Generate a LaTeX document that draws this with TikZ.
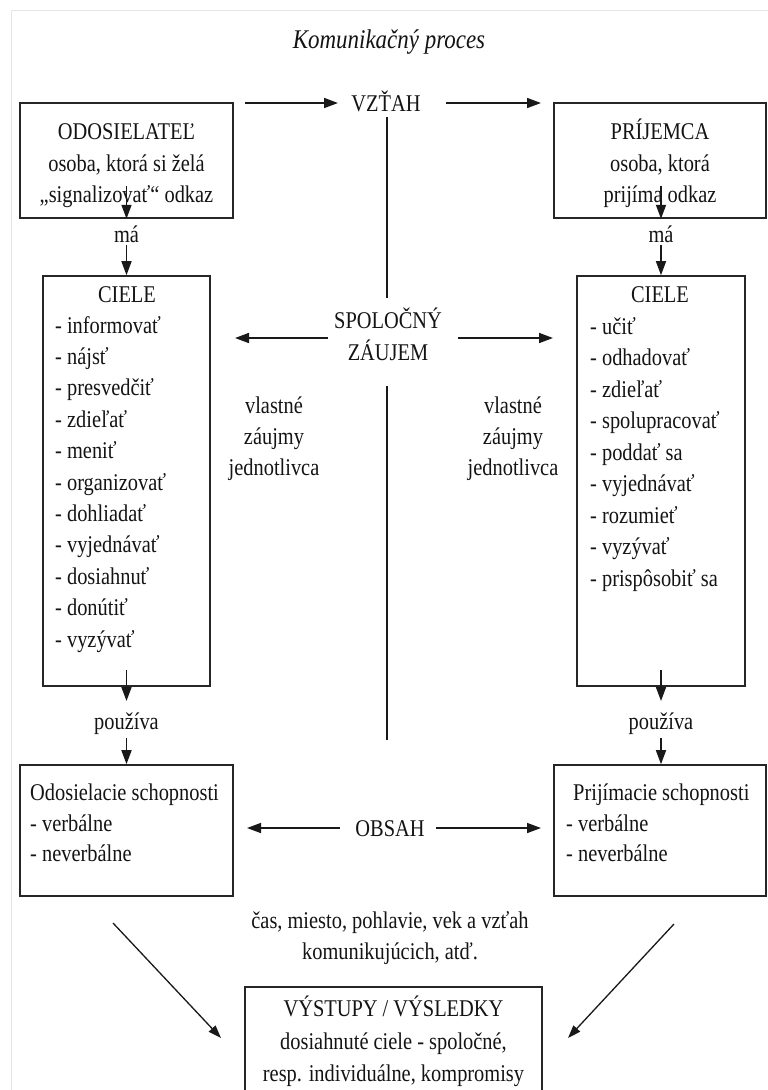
\documentclass[tikz,border=0pt]{standalone}
\usepackage{fontspec}
\setmainfont{Liberation Serif}[FakeStretch=0.85]
\usetikzlibrary{arrows.meta}
\begin{document}
\begin{tikzpicture}[x=1pt,y=-1pt,
  box/.style={draw=black!85, line width=1.6pt, inner sep=0pt},
  txt/.style={inner sep=0pt, font=\fontsize{24}{31}\selectfont, text=black!92},
  arr/.style={draw=black!90, line width=1.6pt, -{Triangle[length=14pt,width=10pt]}},
  darr/.style={draw=black!90, line width=1.3pt, -{Triangle[length=13pt,width=9pt]}},
  plain/.style={draw=black!90, line width=1.4pt}]
\fill[white] (0,0) rectangle (768,1090);
\clip (0,0) rectangle (768,1090);
\draw[black!10, line width=1pt] (11,1090) -- (11,10) -- (768,10);

% title
\node[txt, anchor=base, font=\fontsize{27}{31}\selectfont\itshape] (title) at (389,48) {Komunikačný proces};

% boxes
\node[box, minimum width=213pt, minimum height=115pt] (odos) at (126.5,160.5) {};
\node[box, minimum width=212pt, minimum height=115pt] (prij) at (660,160.5) {};
\node[box, minimum width=167pt, minimum height=410pt] (cielL) at (126.5,481) {};
\node[box, minimum width=168pt, minimum height=410pt] (cielR) at (661,481) {};
\node[box, minimum width=213pt, minimum height=131pt] (schL) at (126.5,830.5) {};
\node[box, minimum width=212pt, minimum height=131pt] (schR) at (660,830.5) {};
\node[box, minimum width=297pt, minimum height=125pt] (out) at (393.5,1049.5) {};

% sender / receiver texts
\node[txt, anchor=base] (o1) at (126.5,139) {ODOSIELATEĽ};
\node[txt, anchor=base] (o2) at (126.5,171) {osoba, ktorá si želá};
\node[txt, anchor=base] (o3) at (126.5,202) {„signalizovať“ odkaz};
\node[txt, anchor=base] (p1) at (660,139) {PRÍJEMCA};
\node[txt, anchor=base] (p2) at (660,171) {osoba, ktorá};
\node[txt, anchor=base] (p3) at (660,202) {prijíma odkaz};

% middle labels
\node[txt, anchor=base] (vztah) at (386,111) {VZŤAH};
\node[txt, anchor=base] (spol1) at (388,328) {SPOLOČNÝ};
\node[txt, anchor=base] (spol2) at (388,360) {ZÁUJEM};
\node[txt, anchor=base] (obsah) at (390,836) {OBSAH};
\node[txt, anchor=base] (vl1) at (274,413) {vlastné};
\node[txt, anchor=base] (vl2) at (274,444) {záujmy};
\node[txt, anchor=base] (vl3) at (274,475) {jednotlivca};
\node[txt, anchor=base] (vr1) at (513,413) {vlastné};
\node[txt, anchor=base] (vr2) at (513,444) {záujmy};
\node[txt, anchor=base] (vr3) at (513,475) {jednotlivca};
\node[txt, anchor=base] (maL) at (126.5,242) {má};
\node[txt, anchor=base] (maR) at (661,242) {má};
\node[txt, anchor=base] (pouL) at (126.5,729) {používa};
\node[txt, anchor=base] (pouR) at (661,729) {používa};
\node[txt, anchor=base] (cas1) at (390,928) {čas, miesto, pohlavie, vek a vzťah};
\node[txt, anchor=base] (cas2) at (390,959) {komunikujúcich, atď.};

% CIELE lists
\node[txt, anchor=base] (cLh) at (127,302) {CIELE};
\node[txt, anchor=base] (cRh) at (660,302) {CIELE};
\foreach \t [count=\i from 0] in {informovať,nájsť,presvedčiť,zdieľať,meniť,organizovať,dohliadať,vyjednávať,dosiahnuť,donútiť,vyzývať}
  \node[txt, anchor=base west] (la\i) at (55,{333+31.4*\i}) {- \t};
\foreach \t [count=\i from 0] in {učiť,odhadovať,zdieľať,spolupracovať,poddať sa,vyjednávať,rozumieť,vyzývať,prispôsobiť sa}
  \node[txt, anchor=base west] (ra\i) at (590,{334+31.5*\i}) {- \t};

% skills texts
\node[txt, anchor=base west] (sL1) at (30,800) {Odosielacie schopnosti};
\node[txt, anchor=base west] (sL2) at (30,831) {- verbálne};
\node[txt, anchor=base west] (sL3) at (30,861) {- neverbálne};
\node[txt, anchor=base west] (sR1) at (573,800) {Prijímacie schopnosti};
\node[txt, anchor=base west] (sR2) at (566,831) {- verbálne};
\node[txt, anchor=base west] (sR3) at (566,861) {- neverbálne};

% output texts
\node[txt, anchor=base] (out1) at (393.5,1016) {VÝSTUPY / VÝSLEDKY};
\node[txt, anchor=base] (out2) at (393.5,1049) {dosiahnuté ciele - spoločné,};
\node[txt, anchor=base] (out3) at (393.5,1081) {resp. individuálne, kompromisy};

% arrow end coordinates
\coordinate (t1a) at (245,103); \coordinate (t1b) at (338,103);
\coordinate (t2a) at (446,103); \coordinate (t2b) at (541,103);
\coordinate (s1a) at (328,338); \coordinate (s1b) at (235,338);
\coordinate (s2a) at (458,338); \coordinate (s2b) at (553,338);
\coordinate (b1a) at (340,828); \coordinate (b1b) at (247,828);
\coordinate (b2a) at (436,828); \coordinate (b2b) at (541,828);
\coordinate (oL) at (126.5,186); \coordinate (oR) at (661,186);
\coordinate (cL) at (126.5,670); \coordinate (cLe) at (126.5,701);
\coordinate (cR) at (661,670); \coordinate (cRe) at (661,701);
\coordinate (v1) at (387,117); \coordinate (v2) at (387,298);
\coordinate (v3) at (387,386); \coordinate (v4) at (387,740);
\coordinate (dLa) at (113,923); \coordinate (dLb) at (221,1038);
\coordinate (dRa) at (674,924); \coordinate (dRb) at (568,1038);

% connectors
\draw[arr] (t1a) -- (t1b);
\draw[arr] (t2a) -- (t2b);
\draw[arr] (s1a) -- (s1b);
\draw[arr] (s2a) -- (s2b);
\draw[arr] (b1a) -- (b1b);
\draw[arr] (b2a) -- (b2b);
\draw[plain] (v1) -- (v2);
\draw[plain] (v3) -- (v4);
\draw[arr] (oL) -- (odos.south);
\draw[arr] (oR) -- (odos.south -| oR);
\draw[arr] ([yshift=-3pt]maL.south) -- (cielL.north);
\draw[arr] ([yshift=-3pt]maR.south) -- (cielR.north);
\draw[arr] (cL) -- (cLe);
\draw[arr] (cR) -- (cRe);
\draw[arr] ([yshift=-4pt]pouL.south) -- (schL.north);
\draw[arr] ([yshift=-4pt]pouR.south) -- (schR.north -| pouR);
\draw[darr] (dLa) -- (dLb);
\draw[darr] (dRa) -- (dRb);
\end{tikzpicture}
\end{document}
